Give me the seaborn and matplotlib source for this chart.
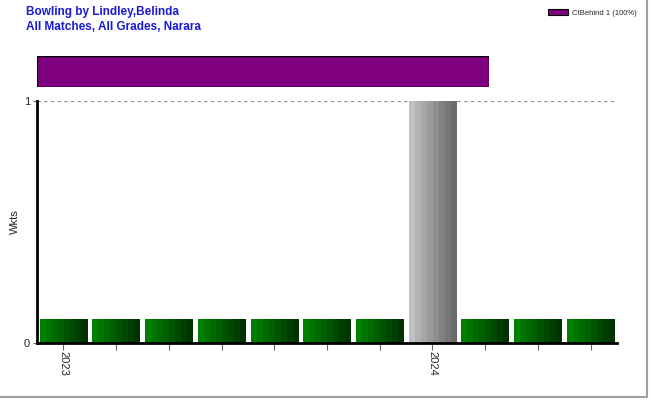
import matplotlib
matplotlib.use("Agg")
import matplotlib.pyplot as plt
import seaborn as sns
import numpy as np
import pandas as pd
from matplotlib.colors import LinearSegmentedColormap

# match slots, only two labelled seasons
match_no = list(range(11))
season_labels = ["2023", "", "", "", "", "", "", "2024", "", "", ""]
bar_heights = [0.1, 0.1, 0.1, 0.1, 0.1, 0.1, 0.1, 1.0, 0.1, 0.1, 0.1]
has_wicket = [False] * 7 + [True] + [False] * 3

dismissal_types = ["CtBehind"]
dismissal_counts = [1]
dismissal_pct = [100]

sns.set_style("white")
plt.rcParams["font.family"] = ["Liberation Sans", "DejaVu Sans"]

fig = plt.figure(figsize=(6.5, 4), dpi=100)
ax = fig.add_axes([37 / 650, 1 - 343 / 400, 580 / 650, 242 / 400])

df = pd.DataFrame({"match": match_no, "h": bar_heights})
sns.barplot(data=df, x="match", y="h", ax=ax, color="green", width=0.9,
            linewidth=0, saturation=1)

green_cmap = LinearSegmentedColormap.from_list("g", ["#008000", "#003300"])
grey_cmap = LinearSegmentedColormap.from_list("k", ["#c0c0c0", "#6a6a6a"])
stripes = np.linspace(0, 1, 8).reshape(1, -1)
for patch, w in zip(ax.patches, has_wicket):
    x0, y0 = patch.get_x(), patch.get_y()
    bw, bh = patch.get_width(), patch.get_height()
    patch.set_facecolor("none")
    im = ax.imshow(stripes, cmap=grey_cmap if w else green_cmap,
                   extent=[x0, x0 + bw, y0, y0 + bh], aspect="auto",
                   interpolation="nearest", zorder=2)
    im.set_clip_path(patch)

ax.set_xlim(-0.5, len(match_no) - 0.5)
ax.set_ylim(0, 1)
ax.set_yticks([0, 1])
ax.set_yticklabels(["0", "1"], fontsize=8)
ax.set_xticks(match_no)
ax.set_xticklabels(season_labels, rotation=-90, fontsize=8)
ax.tick_params(axis="x", bottom=True, length=5, width=0.8, color="#666666", pad=1)
ax.tick_params(axis="y", left=True, length=3, width=0.8, color="#666666", pad=2)
ax.axhline(1, color="#888888", linestyle=(0, (3, 3)), linewidth=0.8, zorder=1)
ax.set_xlabel("")
ax.set_ylabel("Wkts", fontsize=8)
ax.yaxis.set_label_coords(-17 / 580, 0.5)
for s in ["top", "right"]:
    ax.spines[s].set_visible(False)
for s in ["left", "bottom"]:
    ax.spines[s].set_linewidth(2)
    ax.spines[s].set_color("black")

# dismissal summary bar
ax2 = fig.add_axes([37 / 650, 1 - 87 / 400, 452 / 650, 31 / 400])
ax2.barh([0], dismissal_pct, color="#800080", edgecolor="black",
         linewidth=1, height=1)
ax2.set_xlim(0, 100)
ax2.set_ylim(-0.5, 0.5)
ax2.axis("off")

# legend
lab = [f"{t} {c} ({p}%)" for t, c, p in zip(dismissal_types, dismissal_counts, dismissal_pct)]
handles = [plt.Rectangle((0, 0), 1, 1, facecolor="#800080", edgecolor="black", linewidth=0.8)]
fig.legend(handles, lab, loc="upper right", bbox_to_anchor=(643 / 650, 1 - 2 / 400),
           fontsize=5.5, frameon=False, handlelength=2.6, handleheight=0.9,
           handletextpad=0.5)

fig.text(26 / 650, 1 - 12 / 400, "Bowling by Lindley,Belinda", color="#1a1ad6",
         fontsize=8.5, fontweight="bold", va="center")
fig.text(26 / 650, 1 - 27 / 400, "All Matches, All Grades, Narara", color="#1a1ad6",
         fontsize=8.5, fontweight="bold", va="center")

# grey frame on right and bottom edges
fig.add_artist(plt.Line2D([0, 647 / 650, 647 / 650], [3 / 400, 3 / 400, 1],
                          transform=fig.transFigure, color="#a0a0a0", linewidth=1.5))

fig.savefig("out.png", dpi=100)
